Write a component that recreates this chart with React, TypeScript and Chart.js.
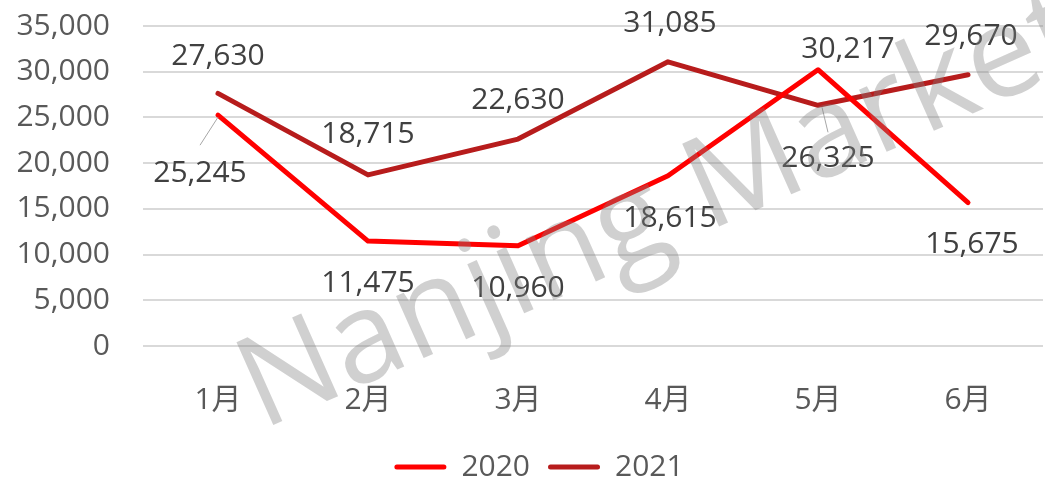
import React, { useEffect, useRef } from "react";
import { Chart, registerables } from "chart.js";

Chart.register(...registerables);

// ---- data ----
const categories = ["1月", "2月", "3月", "4月", "5月", "6月"];
const seriesNames = ["2020", "2021"];
const values2020 = [25245, 11475, 10960, 18615, 30217, 15675];
const values2021 = [27630, 18715, 22630, 31085, 26325, 29670];
const yMin = 0;
const yMax = 35000;
const yStep = 5000;
const watermarkText = "Nanjing Market";

// ---- style ----
const FONT_FAMILY = '"Open Sans", "Noto Sans CJK SC", "Noto Sans", sans-serif';
const COLOR_2020 = "#FF0000";
const COLOR_2021 = "#B71C1C";
const AXIS_TEXT = "#595959";
const LABEL_TEXT = "#404040";
const GRID = "#D9D9D9";

// label offsets in px relative to the point (dx, dy of text centre)
const labelOffsets = [
  [[-18, 58], [0, 42], [0, 43], [2, 43], [30, -20], [4, 42]],
  [[0, -37], [0, -40], [0, -39], [2, -38], [10, 53], [3, -38]],
];
// leader lines: [datasetIndex, pointIndex, x1,y1,x2,y2 offsets]
const leaders = [
  [0, 0, 0, 2, -18, 30],
  [1, 4, 4, 2, 10, 27],
];

const labelPlugin = {
  id: "dataLabels",
  afterLayout(chart: any) {
    // let the y tick labels extend past the axis box (no clipping)
    chart.scales.y._computeLabelArea = () => undefined;
  },
  afterDatasetsDraw(chart: any) {
    const ctx = chart.ctx;
    ctx.save();
    ctx.strokeStyle = "#A6A6A6";
    ctx.lineWidth = 1;
    leaders.forEach(([di, pi, x1, y1, x2, y2]) => {
      const el = chart.getDatasetMeta(di).data[pi];
      ctx.beginPath();
      ctx.moveTo(el.x + x1, el.y + y1);
      ctx.lineTo(el.x + x2, el.y + y2);
      ctx.stroke();
    });
    ctx.font = `30px ${FONT_FAMILY}`;
    ctx.fillStyle = LABEL_TEXT;
    ctx.textAlign = "center";
    ctx.textBaseline = "middle";
    chart.data.datasets.forEach((ds: any, di: number) => {
      const meta = chart.getDatasetMeta(di);
      meta.data.forEach((el: any, i: number) => {
        const [dx, dy] = labelOffsets[di][i];
        ctx.fillText(Number(ds.data[i]).toLocaleString("en-US"), el.x + dx, el.y + dy);
      });
    });
    ctx.restore();
  },
  afterDraw(chart: any) {
    const ctx = chart.ctx;
    ctx.save();
    ctx.translate(262, 430);
    ctx.rotate((-24 * Math.PI) / 180);
    ctx.font = `127px ${FONT_FAMILY}`;
    ctx.fillStyle = "rgba(128,128,128,0.37)";
    ctx.textAlign = "left";
    ctx.textBaseline = "alphabetic";
    ctx.fillText(watermarkText, 0, 0);
    ctx.restore();
  },
};

export default function App() {
  const ref = useRef<HTMLCanvasElement | null>(null);

  useEffect(() => {
    document.body.style.margin = "0";
    const canvas = ref.current;
    if (!canvas) return;
    const chart = new Chart(canvas, {
      type: "line",
      data: {
        labels: categories,
        datasets: [
          {
            label: seriesNames[0],
            data: values2020,
            borderColor: COLOR_2020,
            backgroundColor: COLOR_2020,
            borderWidth: 5,
            pointRadius: 0,
            pointHoverRadius: 0,
            tension: 0,
            borderCapStyle: "round",
            borderJoinStyle: "round",
          },
          {
            label: seriesNames[1],
            data: values2021,
            borderColor: COLOR_2021,
            backgroundColor: COLOR_2021,
            borderWidth: 5,
            pointRadius: 0,
            pointHoverRadius: 0,
            tension: 0,
            borderCapStyle: "round",
            borderJoinStyle: "round",
          },
        ],
      },
      options: {
        responsive: false,
        animation: false,
        layout: { padding: { left: 35, right: 2, top: 26, bottom: 0 } },
        plugins: {
          tooltip: { enabled: false },
          legend: {
            position: "bottom",
            maxHeight: 50,
            labels: {
              boxWidth: 52,
              boxHeight: 5,
              useBorderRadius: true,
              borderRadius: 2.5,
              padding: 18,
              color: AXIS_TEXT,
              font: { family: FONT_FAMILY, size: 30 },
              generateLabels(chart: any) {
                const items = Chart.defaults.plugins.legend.labels.generateLabels(chart);
                items.forEach((it: any) => {
                  it.lineWidth = 0;
                });
                return items;
              },
            },
          },
        },
        scales: {
          x: {
            offset: true,
            grid: { display: false, drawTicks: false },
            border: { display: false },
            ticks: {
              color: AXIS_TEXT,
              font: { family: FONT_FAMILY, size: 30 },
              padding: 36,
              maxRotation: 0,
            },
            afterFit(scale: any) {
              scale.height = 88;
            },
          },
          y: {
            min: yMin,
            max: yMax,
            grid: { color: GRID, lineWidth: 2, drawTicks: false },
            border: { display: false },
            ticks: {
              stepSize: yStep,
              color: AXIS_TEXT,
              font: { family: FONT_FAMILY, size: 30 },
              padding: 33,
              callback: (v: any) => Number(v).toLocaleString("en-US"),
            },
            afterFit(scale: any) {
              scale.width = 108;
              scale.paddingTop = 0;
              scale.paddingBottom = 0;
            },
          },
        },
      },
      plugins: [labelPlugin],
    });
    return () => chart.destroy();
  }, []);

  return (
    <div style={{ width: 1045, height: 484 }}>
      <canvas ref={ref} width={1045} height={484} style={{ display: "block" }} />
    </div>
  );
}
